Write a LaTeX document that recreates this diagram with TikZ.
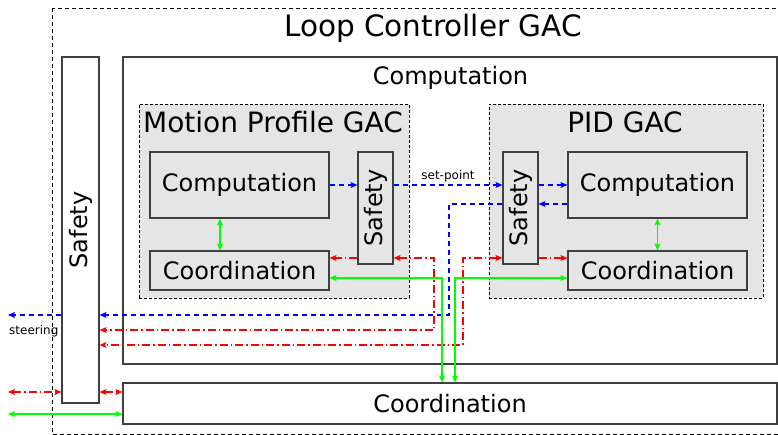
\documentclass[tikz,border=0pt]{standalone}
\usepackage{graphicx}
\usepackage{fontspec}
\setmainfont{DejaVu Sans}
\usetikzlibrary{arrows.meta}

\definecolor{boxline}{RGB}{64,64,64}
\definecolor{gacgray}{RGB}{229,229,229}
\definecolor{sigblue}{RGB}{0,0,255}
\definecolor{ctlred}{RGB}{255,0,0}
\definecolor{crdgreen}{RGB}{0,255,0}

\tikzset{
  >={Stealth[length=7pt,width=6pt,inset=1.5pt]},
  blockbox/.style={draw=boxline, line width=1.1pt, fill=white, inner sep=0pt,
    font=\fontsize{24}{28}\selectfont},
  innerbox/.style={blockbox, fill=gacgray},
  gacbox/.style={draw=black, fill=gacgray, line width=0.9pt,
    dash pattern=on 3pt off 2pt, inner sep=0pt},
  bigtitle/.style={anchor=base, inner sep=0pt, font=\fontsize{29.5}{34}\selectfont},
  gactitle/.style={anchor=base, inner sep=0pt, font=\fontsize{28}{32}\selectfont},
  midtitle/.style={anchor=base, inner sep=0pt, font=\fontsize{24}{28}\selectfont},
  smalltext/.style={inner sep=0pt, font=\fontsize{12}{14}\selectfont},
  sigline/.style={draw=sigblue, line width=1.1pt, dash pattern=on 5pt off 4pt},
  ctlline/.style={draw=ctlred, line width=1.1pt,
    dash pattern=on 8pt off 3pt on 1.5pt off 3pt},
  crdline/.style={draw=crdgreen, line width=1.1pt},
}

\begin{document}
\begin{tikzpicture}[x=1pt,y=-1pt]
  \useasboundingbox (0,0) rectangle (778,435);
  \clip (0,0) rectangle (778,435);

  % outer boundary of the loop controller
  \draw[black, line width=0.8pt, dash pattern=on 4pt off 3pt] (52,8) rectangle (800,434);
  \node[bigtitle] (title) at (433,37) {Loop Controller GAC};

  % top-level blocks
  \node[blockbox, minimum width=37pt, minimum height=346pt] (lsafe) at (80.5,230)
    {\rotatebox{90}{Safety}};
  \node[blockbox, minimum width=654pt, minimum height=307pt] (bcomp) at (450,210.5) {};
  \node[midtitle] (bcomplbl) at (450.5,85) {Computation};
  \node[blockbox, minimum width=654pt, minimum height=41pt] (bcoord) at (450,403.5)
    {Coordination};

  % motion profile GAC
  \node[gacbox, minimum width=270pt, minimum height=194pt] (mpgac) at (274,201) {};
  \node[gactitle] (mplbl) at (273,133) {Motion Profile GAC};
  \node[innerbox, minimum width=179pt, minimum height=66pt] (mpcomp) at (239.5,185)
    {Computation};
  \node[innerbox, minimum width=35pt, minimum height=112pt] (mpsafe) at (375.5,208)
    {\rotatebox{90}{Safety}};
  \node[innerbox, minimum width=179pt, minimum height=39pt] (mpcoord) at (239.5,270.5)
    {Coordination};

  % PID GAC
  \node[gacbox, minimum width=274pt, minimum height=194pt] (pidgac) at (626,201) {};
  \node[gactitle] (pidlbl) at (625,133) {PID GAC};
  \node[innerbox, minimum width=35pt, minimum height=112pt] (pidsafe) at (520.5,208)
    {\rotatebox{90}{Safety}};
  \node[innerbox, minimum width=179pt, minimum height=66pt] (pidcomp) at (657.5,185)
    {Computation};
  \node[innerbox, minimum width=179pt, minimum height=39pt] (pidcoord) at (657.5,270.5)
    {Coordination};

  % routing lanes
  \coordinate (yret)   at (0,204);
  \coordinate (ysteer) at (0,315);
  \coordinate (yred1)  at (0,330);
  \coordinate (yred2)  at (0,345);
  \coordinate (yctl)   at (0,258);
  \coordinate (ycrd)   at (0,278);
  \coordinate (ybr)    at (0,392);
  \coordinate (ybg)    at (0,414);
  \coordinate (xr1)    at (434,0);
  \coordinate (xg1)    at (442,0);
  \coordinate (xb)     at (449,0);
  \coordinate (xg2)    at (455,0);
  \coordinate (xr2)    at (463,0);
  \coordinate (xmp)    at (220,0);
  \coordinate (outL)   at (8,0);

  % data flow (blue)
  \draw[sigline,->] (mpcomp.east) -- (mpcomp.east -| mpsafe.west);
  \draw[sigline,->] (mpcomp.east -| mpsafe.east) -- (mpcomp.east -| pidsafe.west)
    node[smalltext, midway, anchor=base, yshift=5.5pt] (splbl) {set-point};
  \draw[sigline,->] (pidcomp.west -| pidsafe.east) -- (pidcomp.west);
  \draw[sigline,->] (pidcomp.west |- yret) -- (pidsafe.east |- yret);
  \draw[sigline,->] (pidsafe.west |- yret) -| (xb |- ysteer) -- (lsafe.east |- ysteer);
  \draw[sigline,->] (lsafe.west |- ysteer) -- (outL |- ysteer);
  \node[smalltext, anchor=base west] (steerlbl) at (9,334) {steering};

  % safety signals (red)
  \draw[ctlline,->] (mpsafe.west |- yctl) -- (mpcoord.east |- yctl);
  \draw[ctlline,->] (pidsafe.east |- yctl) -- (pidcoord.west |- yctl);
  \draw[ctlline,<->] (mpsafe.east |- yctl) -- (xr1 |- yctl) -- (xr1 |- yred1)
    -- (lsafe.east |- yred1);
  \draw[ctlline,<->] (pidsafe.west |- yctl) -- (xr2 |- yctl) -- (xr2 |- yred2)
    -- (lsafe.east |- yred2);
  \draw[ctlline,<->] (outL |- ybr) -- (lsafe.west |- ybr);
  \draw[ctlline,<->] (lsafe.east |- ybr) -- (bcoord.west |- ybr);

  % coordination (green)
  \draw[crdline,<->] (xmp |- mpcomp.south) -- (xmp |- mpcoord.north);
  \draw[crdline,<->] (pidcomp.south) -- (pidcoord.north);
  \draw[crdline,<->] (mpcoord.east |- ycrd) -- (xg1 |- ycrd) -- (xg1 |- bcoord.north);
  \draw[crdline,<->] (pidcoord.west |- ycrd) -- (xg2 |- ycrd) -- (xg2 |- bcoord.north);
  \draw[crdline,<->] (outL |- ybg) -- (bcoord.west |- ybg);
\end{tikzpicture}
\end{document}
